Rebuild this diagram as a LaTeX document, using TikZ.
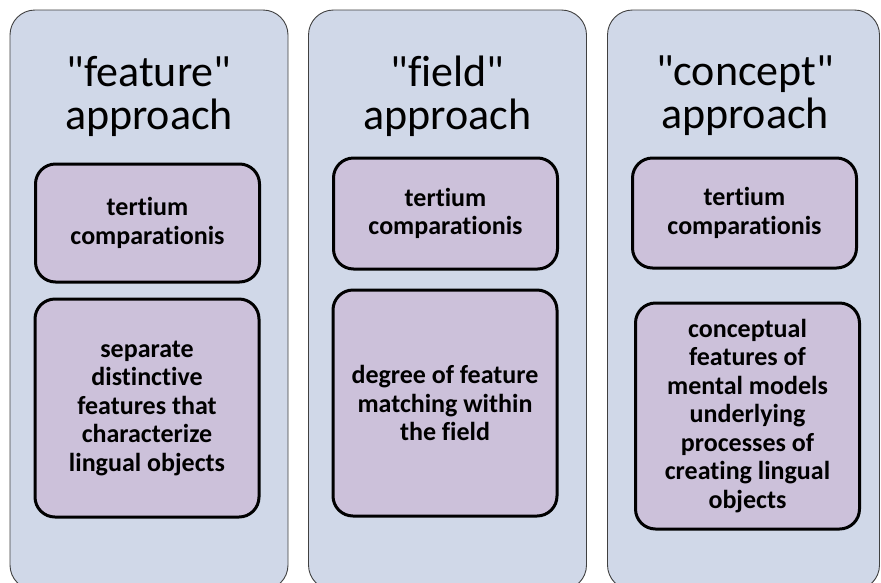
\documentclass[tikz,border=0pt]{standalone}
\usepackage{fontspec}
\setmainfont{Carlito}[Ligatures={TeXOff,NoCommon}]
\definecolor{columnfill}{HTML}{D0D8E8}
\definecolor{itemfill}{HTML}{CCC1DA}
\definecolor{columnline}{HTML}{404040}
\begin{document}
\begin{tikzpicture}[x=1pt,y=-1pt,
  column/.style={draw=columnline, line width=0.9pt, fill=columnfill,
    rounded corners=25pt, minimum width=278pt, minimum height=580pt, inner sep=0pt},
  heading/.style={font=\fontsize{44}{43}\selectfont, align=center, inner sep=0pt},
  item/.style={draw=black, line width=3pt, fill=itemfill, rounded corners=20pt,
    font=\bfseries\fontsize{26}{28.5}\selectfont, align=center, inner sep=0pt,
    minimum width=224pt},
]
% page area
\fill[white] (0,0) rectangle (881,582);
\clip (0,0) rectangle (881,582);

% three approach columns
\node[column] (colFeature) at (149,300) {};
\node[column] (colField)   at (447.5,300) {};
\node[column, minimum width=272pt] (colConcept) at (743.5,300) {};

% column headings
\node[heading] (hFeature) at (149,96)   {"feature"\\approach};
\node[heading] (hField)   at (447.5,96) {"field"\\approach};
\node[heading] (hConcept) at (745,96)   {"concept"\\approach};

% "feature" approach
\node[item, minimum height=118pt] (tFeature) at (147.5,223) {tertium\\comparationis};
\node[item, minimum height=218pt] (dFeature) at (147,408)
  {separate\\distinctive\\features that\\characterize\\lingual objects};

% "field" approach
\node[item, minimum height=111pt] (tField) at (445.5,213.5) {tertium\\comparationis};
\node[item, minimum height=226pt] (dField) at (445,403)
  {degree of feature\\matching within\\the field};

% "concept" approach
\node[item, minimum height=110pt] (tConcept) at (744.5,213) {tertium\\comparationis};
\node[item, minimum height=226pt] (dConcept) at (747.5,416)
  {conceptual\\features of\\mental models\\underlying\\processes of\\creating lingual\\objects};
\end{tikzpicture}
\end{document}
